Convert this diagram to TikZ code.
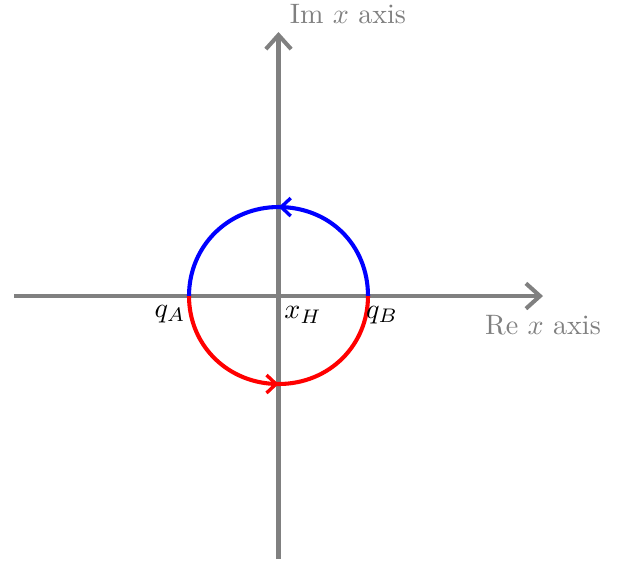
\documentclass[tikz,border=0pt]{standalone}
\usetikzlibrary{arrows.meta,decorations.markings}
\begin{document}
\begin{tikzpicture}[x=0.356pt,y=-0.356pt,
  axis/.style={draw=gray,line width=1.45pt,-{Straight Barb[length=5pt,width=9pt,line width=1.45pt]}},
  contour/.style={line width=1.45pt,postaction={decorate},
    decoration={markings,mark=at position 0.5 with {\arrow{Straight Barb[length=3.4pt,width=6.4pt,line width=1.2pt]}}}},
  axislabel/.style={text=gray,font=\fontsize{10}{12}\selectfont},
  ptlabel/.style={font=\fontsize{10}{12}\selectfont}]
\useasboundingbox (0,0) rectangle (621,564);
\coordinate (O) at (278.5,296);
\coordinate (L) at (14,296);
\coordinate (R) at (543,296);
\coordinate (B) at (278.5,559);
\coordinate (T) at (278.5,32);
\coordinate (qA) at (189,296);
\coordinate (qB) at (368,296);
\draw[axis] (L) -- (R);
\draw[axis] (B) -- (T);
\draw[contour,blue] (qB) .. controls (368,245) and (329.5,207) .. (278.5,207)
                          .. controls (228.5,207) and (189,246) .. (qA);
\draw[contour,red] (qA) .. controls (189,346) and (228.5,384) .. (278.5,384)
                         .. controls (329.5,384) and (368,345) .. (qB);
\node[axislabel] (im) at (348,14) {Im $x$ axis};
\node[axislabel] (re) at (543,325) {Re $x$ axis};
\node[ptlabel] (lA) at (170,314) {$q_A$};
\node[ptlabel] (lH) at (303,315) {$x_H$};
\node[ptlabel] (lB) at (382,315) {$q_B$};
\end{tikzpicture}
\end{document}
